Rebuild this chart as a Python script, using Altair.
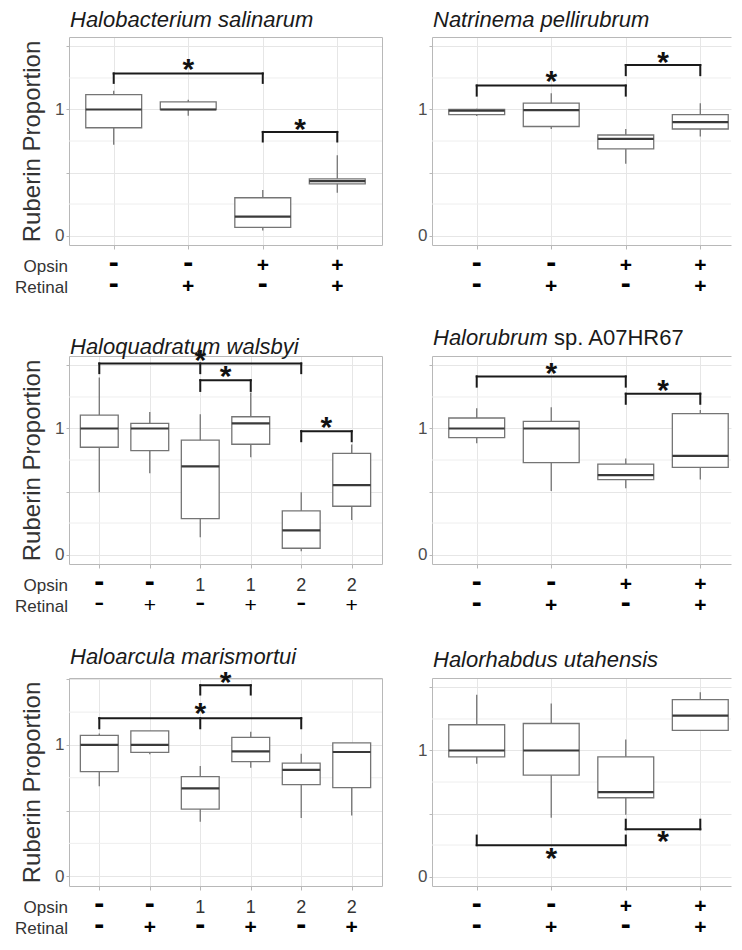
import altair as alt
import pandas as pd

FONT = "Liberation Sans"

# ---------------- data ----------------
# Panel 1
P1_NAME = [("Halobacterium salinarum", "italic", 0)]
P1_OPSIN = ["-", "-", "+", "+"]
P1_RETINAL = ["-", "+", "-", "+"]
P1_LOW = [0.72, 0.95, 0.04, 0.34]
P1_Q1 = [0.855, 1.00, 0.065, 0.41]
P1_MED = [1.00, 1.00, 0.15, 0.432]
P1_Q3 = [1.118, 1.06, 0.30, 0.45]
P1_HIGH = [1.148, 1.078, 0.362, 0.636]
P1_BRACKETS = [(1, 3, 1.286, 1.211, []), (3, 4, 0.822, 0.746, [])]
P1_STARS = [(2, 1.355), (3.5, 0.875)]

# Panel 2
P2_NAME = [("Natrinema pellirubrum", "italic", 0)]
P2_OPSIN = ["-", "-", "+", "+"]
P2_RETINAL = ["-", "+", "-", "+"]
P2_LOW = [0.948, 0.845, 0.57, 0.785]
P2_Q1 = [0.96, 0.865, 0.6875, 0.845]
P2_MED = [0.99, 0.995, 0.7675, 0.90]
P2_Q3 = [1.0, 1.05, 0.7975, 0.96]
P2_HIGH = [1.005, 1.128, 0.845, 1.05]
P2_BRACKETS = [(1, 3, 1.19, 1.11, []), (3, 4, 1.3525, 1.2725, [])]
P2_STARS = [(2, 1.255), (3.5, 1.41)]

# Panel 3
P3_NAME = [("Haloquadratum walsbyi", "italic", 0)]
P3_OPSIN = ["-", "-", "1", "1", "2", "2"]
P3_RETINAL = ["-", "+", "-", "+", "-", "+"]
P3_LOW = [0.495, 0.644, 0.138, 0.771, 0.027, 0.274]
P3_Q1 = [0.851, 0.824, 0.285, 0.875, 0.05, 0.383]
P3_MED = [1.0, 1.0, 0.699, 1.04, 0.191, 0.551]
P3_Q3 = [1.106, 1.04, 0.907, 1.093, 0.346, 0.803]
P3_HIGH = [1.404, 1.13, 1.112, 1.285, 0.495, 0.872]
P3_BRACKETS = [(1, 5, 1.516, 1.439, [3]), (3, 4, 1.383, 1.298, []), (5, 6, 0.979, 0.899, [])]
P3_STARS = [(3, 1.575), (3.5, 1.445), (5.5, 1.04)]

# Panel 4
P4_NAME = [("Halorubrum", "italic", 0), ("sp. A07HR67", "normal", 121)]
P4_OPSIN = ["-", "-", "+", "+"]
P4_RETINAL = ["-", "+", "-", "+"]
P4_LOW = [0.882, 0.504, 0.525, 0.595]
P4_Q1 = [0.928, 0.729, 0.595, 0.692]
P4_MED = [1.0, 1.0, 0.63, 0.783]
P4_Q3 = [1.083, 1.056, 0.718, 1.118]
P4_HIGH = [1.161, 1.169, 0.761, 1.147]
P4_BRACKETS = [(1, 3, 1.413, 1.332, []), (3, 4, 1.276, 1.196, [])]
P4_STARS = [(2, 1.475), (3.5, 1.34)]

# Panel 5
P5_NAME = [("Haloarcula marismortui", "italic", 0)]
P5_OPSIN = ["-", "-", "1", "1", "2", "2"]
P5_RETINAL = ["-", "+", "-", "+", "-", "+"]
P5_LOW = [0.686, 0.929, 0.414, 0.827, 0.443, 0.462]
P5_Q1 = [0.796, 0.944, 0.511, 0.873, 0.698, 0.674]
P5_MED = [1.0, 1.0, 0.669, 0.951, 0.81, 0.946]
P5_Q3 = [1.073, 1.107, 0.759, 1.058, 0.861, 1.015]
P5_HIGH = [1.088, 1.107, 0.839, 1.1, 0.932, 1.015]
P5_BRACKETS = [(1, 5, 1.204, 1.127, [3]), (3, 4, 1.455, 1.384, [])]
P5_STARS = [(3, 1.275), (3.5, 1.51)]

# Panel 6
P6_NAME = [("Halorhabdus utahensis", "italic", 0)]
P6_OPSIN = ["-", "-", "+", "+"]
P6_RETINAL = ["-", "+", "-", "+"]
P6_LOW = [0.894, 0.466, 0.491, 1.159]
P6_Q1 = [0.95, 0.804, 0.625, 1.159]
P6_MED = [1.0, 1.0, 0.67, 1.277]
P6_Q3 = [1.204, 1.214, 0.95, 1.403]
P6_HIGH = [1.443, 1.373, 1.088, 1.461]
P6_BRACKETS = [(1, 3, 0.249, 0.325, []), (3, 4, 0.375, 0.451, [])]
P6_STARS = [(2, 0.176), (3.5, 0.31)]

Y_MAJOR = [0, 0.5, 1, 1.5]
Y_MINOR = [0.25, 0.75, 1.25]

# ---------------- style ----------------
H = 208
W_LEFT = 313
W_RIGHT = 299
BORDER = "#b8b8b8"
GRIDC = "#e6e6e6"
MINORC = "#eeeeee"
BOXC = "#757575"
MEDC = "#3a3a3a"
HALF = 0.375


def make_panel(name_parts, opsin, retinal, low, q1, med, q3, high, brackets, stars,
               ydom, left, title_off, retinal_bold=True):
    n = len(opsin)
    px_per = W_LEFT / (n + 0.2)
    W = W_LEFT if left else W_RIGHT
    xdom = [0.4, n + 0.6] if left else [0.4, 0.4 + W / px_per]
    xs = alt.Scale(domain=xdom, nice=False, zero=False)
    ys = alt.Scale(domain=ydom, nice=False, zero=False)

    pos = list(range(1, n + 1))
    box_df = pd.DataFrame({
        "pos": pos, "low": low, "q1": q1, "med": med, "q3": q3, "high": high,
    })
    base = alt.Chart(box_df).transform_calculate(
        bl=f"datum.pos - {HALF}", br=f"datum.pos + {HALF}"
    )

    x_bottom = alt.Axis(values=pos, labels=False, ticks=True, tickSize=4,
                        tickColor=BORDER, domain=True, domainColor=BORDER,
                        grid=True, gridColor=GRIDC, title=None, orient="bottom")
    y_kwargs = dict(values=Y_MAJOR,
                    labelExpr="datum.value == 0 ? '0' : (datum.value == 1 ? '1' : '')",
                    labelFontSize=17, labelColor="#4d4d4d", labelPadding=2,
                    labelFont=FONT, tickSize=3, tickColor=BORDER, domain=True,
                    domainColor=BORDER, grid=True, gridColor=GRIDC, orient="left")
    if left:
        y_left = alt.Axis(title="Ruberin Proportion", titleFontSize=24,
                          titleFontWeight="normal", titleColor="#333333",
                          titlePadding=10, titleFont=FONT, **y_kwargs)
    else:
        y_left = alt.Axis(title=None, **y_kwargs)
    top_axis = alt.Axis(orient="top", labels=False, ticks=False, grid=False,
                        domain=True, domainColor=BORDER, title=None)
    right_axis = alt.Axis(orient="right", labels=False, ticks=False, grid=False,
                          domain=True, domainColor=BORDER, title=None)

    minor = alt.Chart(pd.DataFrame({"g": Y_MINOR})).mark_rule(
        color=MINORC, strokeWidth=1
    ).encode(y=alt.Y("g:Q", scale=ys, axis=None))

    whisk = base.mark_rule(color=BOXC, strokeWidth=1.3).encode(
        x=alt.X("pos:Q", scale=xs, axis=x_bottom),
        y=alt.Y("low:Q", scale=ys, axis=y_left),
        y2="high:Q",
    )
    box = base.mark_rect(fill="white", stroke=BOXC, strokeWidth=1.3).encode(
        x=alt.X("bl:Q", scale=xs, axis=None), x2="br:Q",
        y=alt.Y("q1:Q", scale=ys, axis=None), y2="q3:Q",
    )
    medr = base.mark_rule(color=MEDC, strokeWidth=2.2).encode(
        x=alt.X("bl:Q", scale=xs, axis=top_axis), x2="br:Q",
        y=alt.Y("med:Q", scale=ys, axis=right_axis if left else None),
    )

    segs = []
    for a, b, yb, yl, mids in brackets:
        segs.append({"x": a, "x2": b, "y": yb, "y2": yb})
        for xl in [a, b] + list(mids):
            segs.append({"x": xl, "x2": xl, "y": yb, "y2": yl})
    brk = alt.Chart(pd.DataFrame(segs)).mark_rule(
        color="#1a1a1a", strokeWidth=2, strokeCap="square"
    ).encode(
        x=alt.X("x:Q", scale=xs, axis=None), x2="x2:Q",
        y=alt.Y("y:Q", scale=ys, axis=None), y2="y2:Q",
    )
    star = alt.Chart(pd.DataFrame(stars, columns=["x", "y"])).mark_text(
        text="*", fontSize=30, fontWeight="bold", color="#111111",
        baseline="alphabetic", align="center", dy=14, font=FONT
    ).encode(
        x=alt.X("x:Q", scale=xs, axis=None),
        y=alt.Y("y:Q", scale=ys, axis=None),
    )

    layers = [minor, whisk, box, medr, brk, star]

    # category labels below the axis
    for row_i, (labels, yv) in enumerate([(opsin, H + 27), (retinal, H + 48)]):
        bold = True if row_i == 0 else retinal_bold
        kinds = {
            "dash": [i for i, t in enumerate(labels) if t == "-"],
            "plus": [i for i, t in enumerate(labels) if t == "+"],
            "digit": [i for i, t in enumerate(labels) if t not in ("-", "+")],
        }
        for kind, idxs in kinds.items():
            if not idxs:
                continue
            df = pd.DataFrame({"pos": [i + 1 for i in idxs],
                               "t": [labels[i] for i in idxs]})
            if kind == "dash":
                st = dict(fontSize=30, fontWeight="bold" if bold else "normal", color="#000000")
            elif kind == "plus":
                st = dict(fontSize=21, fontWeight="bold" if bold else "normal", color="#000000")
            else:
                st = dict(fontSize=18, fontWeight="normal", color="#333333")
            layers.append(
                alt.Chart(df).mark_text(align="center", baseline="alphabetic", font=FONT, **st)
                .encode(x=alt.X("pos:Q", scale=xs, axis=None), y=alt.value(yv), text="t:N")
            )
    if left:
        for txt, yv in [("Opsin", H + 27), ("Retinal", H + 48)]:
            layers.append(
                alt.Chart(pd.DataFrame({"t": [txt]})).mark_text(
                    align="right", baseline="alphabetic", fontSize=17,
                    color="#333333", font=FONT
                ).encode(x=alt.value(-1), y=alt.value(yv), text="t:N")
            )

    # panel title (text marks so mixed italic/normal works)
    for txt, style, dx in name_parts:
        layers.append(
            alt.Chart(pd.DataFrame({"t": [txt]})).mark_text(
                align="left", baseline="alphabetic", fontSize=22, fontStyle=style,
                color="#1a1a1a", font=FONT, dx=dx
            ).encode(x=alt.value(1), y=alt.value(-title_off), text="t:N")
        )

    return alt.layer(*layers).resolve_axis(x="independent", y="independent").properties(
        width=W, height=H
    )


DOM = [-0.075, 1.575]
p1 = make_panel(P1_NAME, P1_OPSIN, P1_RETINAL, P1_LOW, P1_Q1, P1_MED, P1_Q3, P1_HIGH,
                P1_BRACKETS, P1_STARS, DOM, True, 10)
p2 = make_panel(P2_NAME, P2_OPSIN, P2_RETINAL, P2_LOW, P2_Q1, P2_MED, P2_Q3, P2_HIGH,
                P2_BRACKETS, P2_STARS, DOM, False, 10)
p3 = make_panel(P3_NAME, P3_OPSIN, P3_RETINAL, P3_LOW, P3_Q1, P3_MED, P3_Q3, P3_HIGH,
                P3_BRACKETS, P3_STARS, DOM, True, 2, retinal_bold=False)
p4 = make_panel(P4_NAME, P4_OPSIN, P4_RETINAL, P4_LOW, P4_Q1, P4_MED, P4_Q3, P4_HIGH,
                P4_BRACKETS, P4_STARS, DOM, False, 11)
p5 = make_panel(P5_NAME, P5_OPSIN, P5_RETINAL, P5_LOW, P5_Q1, P5_MED, P5_Q3, P5_HIGH,
                P5_BRACKETS, P5_STARS, [-0.075, 1.51], True, 14)
p6 = make_panel(P6_NAME, P6_OPSIN, P6_RETINAL, P6_LOW, P6_Q1, P6_MED, P6_Q3, P6_HIGH,
                P6_BRACKETS, P6_STARS, DOM, False, 11)

row1 = alt.hconcat(p1, p2, spacing=34)
row2 = alt.hconcat(p3, p4, spacing=34)
row3 = alt.hconcat(p5, p6, spacing=34)

chart = alt.vconcat(row1, row2, row3, spacing=28).properties(
    padding={"left": 7, "top": 1, "right": 0, "bottom": 0},
    background="white",
).configure_view(stroke=None).configure_text(font=FONT)

chart.save("out.html", embed_options={"renderer": "svg", "actions": False})
